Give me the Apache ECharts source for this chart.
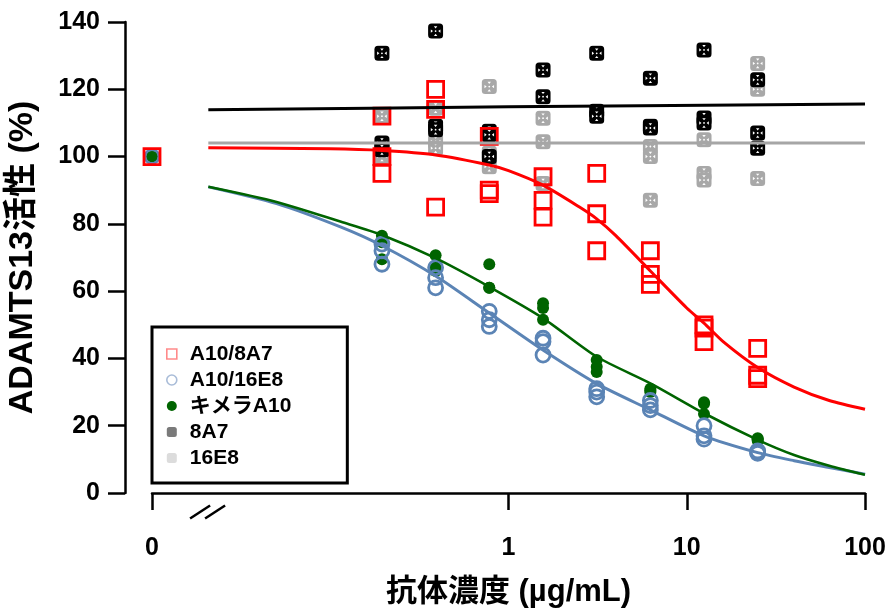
<!DOCTYPE html>
<html>
<head>
<meta charset="utf-8">
<script src="https://cdn.jsdelivr.net/npm/echarts@6/dist/echarts.min.js"></script>
<style>
  html, body { margin: 0; padding: 0; background: #fff; }
  #chart { width: 891px; height: 610px; }
</style>
</head>
<body>
<div id="chart"></div>
<script>
// "0" dose is drawn left of the axis break, at this log position
const ZERO = 0.01
const conc = [0.195, 0.39, 0.78, 1.5625, 3.125, 6.25, 12.5, 25]
const xTicks = [0.01, 1, 10, 100]
const xTickLabels = ['0', '1', '10', '100']

// replicates (%) per concentration
const a10_8a7 = [[112, 100, 95], [120, 114, 85], [106, 90, 89], [94, 87, 82], [95, 83, 72], [72, 65, 62], [50, 49, 45], [43, 35, 34]]
const a10_16e8 = [[74, 72, 68], [67, 64, 61], [54, 51.5, 49.5], [46, 45, 41], [31, 30, 28.6], [27.5, 26, 24.7], [20, 17, 16], [12.5, 12, 11.8]]
const chimeraA10 = [[76.5, 74.5, 69.5], [70.7, 67, 66], [68, 61, 61], [56.4, 55, 51.5], [39.5, 37.5, 36], [31, 30.5, 30], [27, 26.5, 23.5], [16.3, 16, 15.5]]
const ab8a7 = [[130.7, 104, 102], [137.3, 109, 108], [107.5, 106.5, 100], [143, 125.7, 117.8], [130.7, 113.5, 112], [123.3, 109, 108.5], [131.7, 111.5, 110], [122.8, 107, 102.5]]
const ab16e8 = [[112, 103, 100], [114.4, 104.5, 102.5], [120.8, 101, 97], [111.4, 104.4, 92], [], [103, 100, 87], [105, 95, 93], [127.7, 120, 93.5]]
const zeroValue = 100

// fitted curves: [concentration, %]
const fitA10_8a7 = [[0.0207, 102.6], [0.1, 102.3], [0.195, 101.8], [0.39, 100.5], [0.78, 97.5], [1, 95.8], [1.56, 91.5], [2.5, 85], [3.125, 81.5], [4, 76.5], [6.25, 66], [10, 55], [12.5, 50.5], [16, 45], [25, 37.3], [40, 31.5], [63, 27.5], [100, 24.9]]
const fitA10_16e8 = [[0.0207, 91], [0.05, 86], [0.115, 79], [0.195, 73.5], [0.39, 64.5], [0.78, 53.5], [1.56, 42.5], [3.125, 32.5], [6.25, 24.7], [12.5, 17], [25, 12], [40, 9.6], [63, 7.6], [100, 5.6]]
const fitChimera = [[0.0207, 91], [0.05, 86.5], [0.115, 80.6], [0.195, 76.7], [0.39, 69.8], [0.78, 61.3], [1.56, 52], [3.125, 40.5], [6.25, 32.6], [12.5, 23.7], [25, 15.8], [40, 11.3], [63, 8.1], [100, 5.4]]
const fit8a7 = [[0.0207, 113.9], [1, 114.8], [100, 115.6]]
const fit16e8 = [[0.0207, 104], [100, 104]]

const FONT = '"Liberation Sans", Arial, "Noto Sans CJK JP", sans-serif'

const toPoints = (reps, zero) => {
  const out = []
  if (zero != null) out.push([ZERO, zero])
  reps.forEach((r, i) => r.forEach(v => out.push([conc[i], v])))
  return out
}

const tickLabel = v => {
  const i = xTicks.findIndex(t => Math.abs(Math.log10(t) - Math.log10(v)) < 1e-6)
  return i < 0 ? '' : xTickLabels[i]
}

const markSvg = (fill) => 'image://data:image/svg+xml;utf8,' + encodeURIComponent(
  '<svg xmlns="http://www.w3.org/2000/svg" width="16" height="16" viewBox="0 0 16 16">' +
  '<rect x="0.5" y="0.5" width="15" height="15" rx="3.5" fill="' + fill + '"/>' +
  '<g fill="#fff"><path d="M6.3 3.2h3.4L8 5.4z"/><path d="M6.3 12.8h3.4L8 10.6z"/>' +
  '<path d="M3.2 6.3v3.4L5.4 8z"/><path d="M12.8 6.3v3.4L10.6 8z"/><circle cx="8" cy="8" r="0.9"/></g></svg>')

const fitLine = (name, data, color, width) => ({
  name, type: 'line', data, showSymbol: false, symbol: 'none',
  smooth: 0.25, silent: true,
  lineStyle: { color, width }
})

const chart = echarts.init(document.getElementById('chart'))

const option = {
  animation: false,
  backgroundColor: '#fff',
  grid: { left: 152, right: 26, top: 22, bottom: 117, outerBoundsMode: 'none' },
  xAxis: {
    type: 'log', logBase: 10, min: 0.01, max: 100, offset: 19,
    axisLine: { lineStyle: { color: '#000', width: 2.5 } },
    axisTick: { length: 17, customValues: xTicks, lineStyle: { color: '#000', width: 2.5 } },
    minorTick: { show: false },
    splitLine: { show: false },
    axisLabel: {
      customValues: xTicks, margin: 24,
      color: '#000', fontSize: 25, fontWeight: 'bold', fontFamily: FONT,
      formatter: tickLabel
    },
    name: '抗体濃度 (µg/mL)', nameLocation: 'middle', nameGap: 65,
    nameTextStyle: { color: '#000', fontSize: 31, fontWeight: 'bold', fontFamily: FONT }
  },
  yAxis: {
    type: 'value', min: 0, max: 140, interval: 20, offset: 27,
    axisLine: { show: true, lineStyle: { color: '#000', width: 2.5 } },
    axisTick: { show: true, length: 17, lineStyle: { color: '#000', width: 2.5 } },
    splitLine: { show: false },
    axisLabel: { margin: 25, color: '#000', fontSize: 25, fontWeight: 'bold', fontFamily: FONT },
    name: 'ADAMTS13活性 (%)', nameLocation: 'middle', nameGap: 85, nameRotate: 90,
    nameTextStyle: { color: '#000', fontSize: 34, fontWeight: 'bold', fontFamily: FONT }
  },
  legend: {
    orient: 'vertical', left: 152, top: 327,
    padding: [16, 56, 14, 14], itemGap: 4, itemWidth: 10, itemHeight: 10,
    borderColor: '#000', borderWidth: 3, backgroundColor: '#fff',
    textStyle: { color: '#000', fontSize: 21, lineHeight: 22, fontWeight: 'bold', fontFamily: FONT, padding: [0, 0, 0, 8] },
    data: [
      { name: 'A10/8A7', icon: 'rect', itemStyle: { color: '#fff', borderColor: '#ff8a8a', borderWidth: 1.6 } },
      { name: 'A10/16E8', icon: 'circle', itemStyle: { color: '#fff', borderColor: '#a9bcd8', borderWidth: 1.6 } },
      { name: 'キメラA10', icon: 'circle', itemStyle: { color: '#006400', opacity: 1 } },
      { name: '8A7', icon: 'roundRect', itemStyle: { color: '#7a7a7a' } },
      { name: '16E8', icon: 'roundRect', itemStyle: { color: '#dcdcdc' } }
    ]
  },
  series: [
    { name: '16E8', type: 'scatter', data: toPoints(ab16e8), symbol: markSvg('#a8a8a8'), symbolSize: 16, itemStyle: { opacity: 1 } },
    { name: '8A7', type: 'scatter', data: toPoints(ab8a7), symbol: markSvg('#000'), symbolSize: 16, itemStyle: { opacity: 1 } },
    fitLine('fit 8A7', fit8a7, '#000', 3),
    fitLine('fit 16E8', fit16e8, '#a6a6a6', 3),
    fitLine('fit A10/8A7', fitA10_8a7, '#ff0000', 3),
    fitLine('fit A10/16E8', fitA10_16e8, '#5b84b5', 3),
    fitLine('fit キメラA10', fitChimera, '#006400', 2.6),
    { name: 'キメラA10', type: 'scatter', data: toPoints(chimeraA10, zeroValue), symbol: 'circle', symbolSize: 12,
      itemStyle: { color: '#006400', opacity: 1 } },
    { name: 'A10/16E8', type: 'scatter', data: toPoints(a10_16e8, zeroValue), symbol: 'circle', symbolSize: 14,
      itemStyle: { color: 'rgba(0,0,0,0)', borderColor: '#5b84b5', borderWidth: 2.8, opacity: 1 } },
    { name: 'A10/8A7', type: 'scatter', data: toPoints(a10_8a7, zeroValue), symbol: 'rect', symbolSize: 16,
      itemStyle: { color: 'rgba(0,0,0,0)', borderColor: '#ff0000', borderWidth: 2.8, opacity: 1 } }
  ]
}

chart.setOption(option)

// axis break "//" on the x axis
const breakX = chart.convertToPixel({ xAxisIndex: 0 }, 0.0205)
const axisY = chart.convertToPixel({ yAxisIndex: 0 }, 0) + 19
const slash = dx => ({
  type: 'line',
  shape: { x1: breakX + dx - 10, y1: axisY + 6.5, x2: breakX + dx + 10, y2: axisY - 6.5 },
  style: { stroke: '#000', lineWidth: 2.5 }
})
chart.setOption({
  graphic: [
    { type: 'rect', shape: { x: breakX - 6, y: axisY - 3, width: 12, height: 6 }, style: { fill: '#fff' } },
    slash(-7.5),
    slash(7.5)
  ]
})
</script>
</body>
</html>
